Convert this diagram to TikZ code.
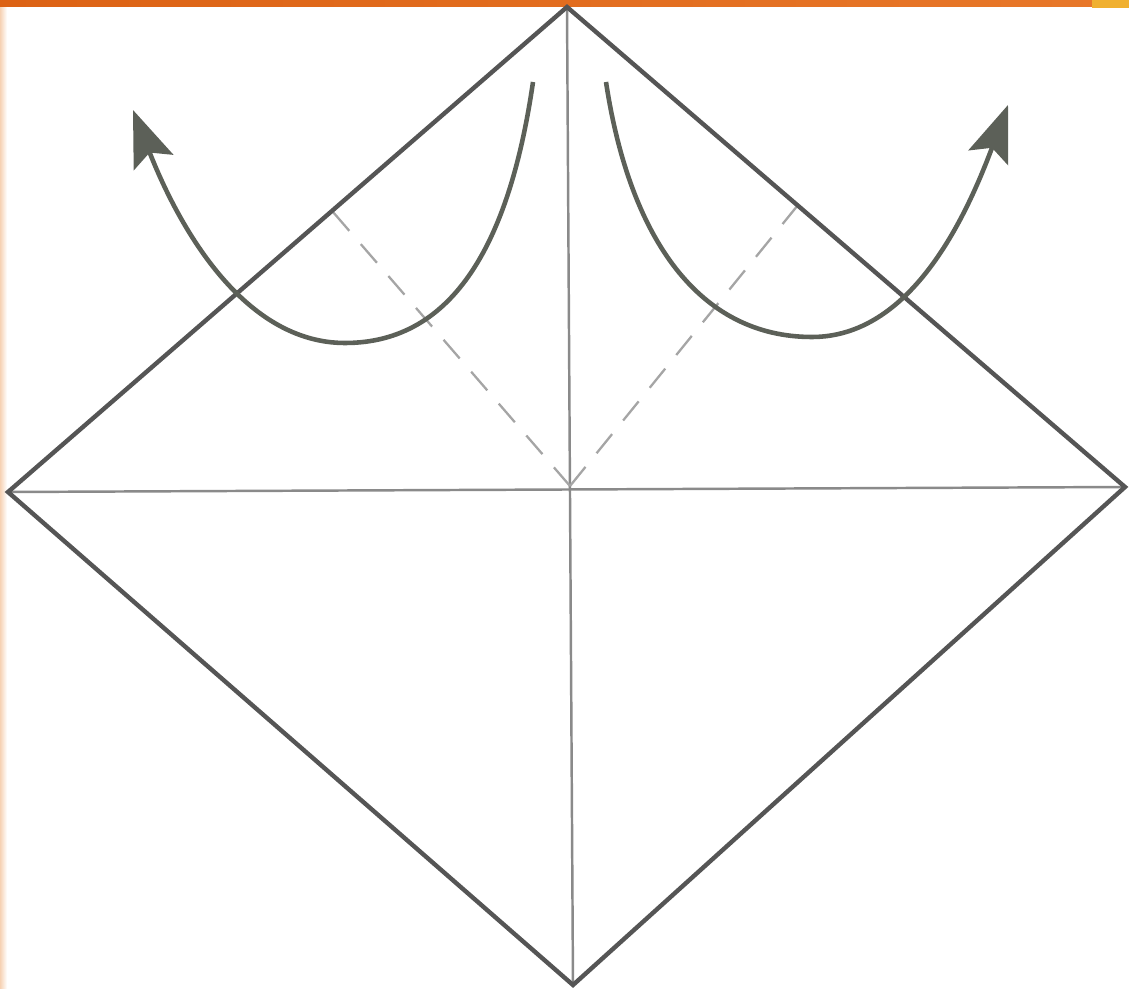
\documentclass[tikz,border=0pt]{standalone}
\usetikzlibrary{arrows.meta}
\definecolor{edgegray}{HTML}{555555}
\definecolor{creasegray}{HTML}{8A8A8A}
\definecolor{dashgray}{HTML}{A5A5A5}
\definecolor{arrowgray}{HTML}{5C6058}
\definecolor{barorange}{HTML}{DC6214}
\definecolor{barorange2}{HTML}{E8782A}
\definecolor{peach}{HTML}{F6D2B4}
\definecolor{cornery}{HTML}{F0B030}
\tikzset{
  paperedge/.style={draw=edgegray, line width=2.5pt, line join=miter},
  crease/.style={draw=creasegray, line width=1.4pt},
  valley/.style={draw=dashgray, line width=1.3pt, dash pattern=on 14pt off 10pt},
  foldarrow/.style={draw=arrowgray, line width=2.6pt,
    -{Stealth[length=32pt, width=24pt, inset=6pt]}}
}
\begin{document}
\begin{tikzpicture}[x=0.02cm, y=-0.02cm]
\useasboundingbox (0,0) rectangle (1129,989);
\fill[white] (0,0) rectangle (1129,989);
% background frame
\shade[left color=peach, right color=white] (0,0) rectangle (7,989);
\shade[left color=barorange, right color=barorange2] (0,0) rectangle (1129,7);
\fill[cornery] (1092,0) rectangle (1129,8);
% vertices
\coordinate (T) at (567,7);
\coordinate (L) at (8,492);
\coordinate (R) at (1125,487);
\coordinate (B) at (573,985);
\coordinate (C) at (570,486);
\coordinate (DL) at (333,212);
\coordinate (DR) at (798,205);
% creases
\draw[crease] (T) -- (B);
\draw[crease] (L) -- (R);
\draw[valley] (C) -- (DL);
\draw[valley] (C) -- (DR);
% outline
\draw[paperedge] (T) -- (R) -- (B) -- (L) -- cycle;
% fold arrows
\coordinate (LS) at (533,82);
\coordinate (LM) at (345,343);
\coordinate (LE) at (133,110);
\coordinate (RS) at (606,82);
\coordinate (RM) at (812,337);
\coordinate (RE) at (1008,105);
\draw[foldarrow] (LS) .. controls (510,240) and (455,343) .. (LM)
  .. controls (245,343) and (180,230) .. (LE);
\draw[foldarrow] (RS) .. controls (630,240) and (700,337) .. (RM)
  .. controls (910,337) and (965,220) .. (RE);
\end{tikzpicture}
\end{document}
